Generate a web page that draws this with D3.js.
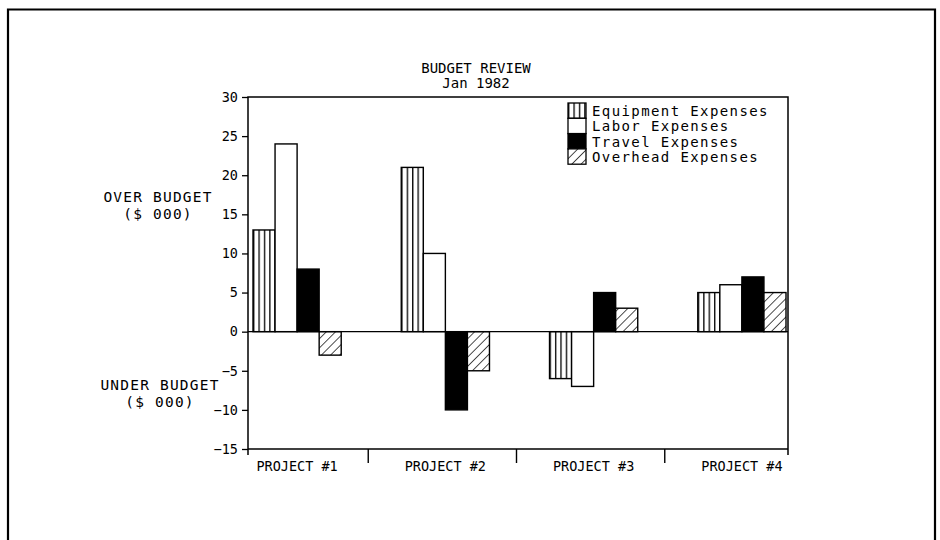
<!DOCTYPE html>
<html>
<head>
<meta charset="utf-8">
<script src="https://cdnjs.cloudflare.com/ajax/libs/d3/7.8.5/d3.min.js"></script>
<style>
  html, body { margin: 0; padding: 0; background: #fff; }
  svg { display: block; }
  text { font-family: "DejaVu Sans Mono", "Liberation Mono", monospace; fill: #000; }
</style>
</head>
<body>
<svg id="chart" width="940" height="540"></svg>
<script>
// ---- data ----
const categories = ["PROJECT #1", "PROJECT #2", "PROJECT #3", "PROJECT #4"];
const seriesNames = ["Equipment Expenses", "Labor Expenses", "Travel Expenses", "Overhead Expenses"];
const equipment = [13, 21, -6, 5];
const labor = [24, 10, -7, 6];
const travel = [8, -10, 5, 7];
const overhead = [-3, -5, 3, 5];
const yTicks = [-15, -10, -5, 0, 5, 10, 15, 20, 25, 30];
const titleLines = ["BUDGET REVIEW", "Jan 1982"];
const overLabel = ["OVER BUDGET", "($ 000)"];
const underLabel = ["UNDER BUDGET", "($ 000)"];

const seriesValues = [equipment, labor, travel, overhead];
const fills = ["url(#vlines)", "#fff", "#000", "url(#diag)"];

// ---- layout ----
const svg = d3.select("#chart");
const plot = { left: 248, right: 788, top: 97, bottom: 449 };

svg.append("rect").attr("width", 940).attr("height", 540).attr("fill", "#fff");

// outer frame (open at bottom)
svg.append("path")
  .attr("d", "M8,545 L8,9.5 L935,9.5 L935,545")
  .attr("fill", "none").attr("stroke", "#000").attr("stroke-width", 2.2);

// patterns
const defs = svg.append("defs");
const pv = defs.append("pattern").attr("id", "vlines")
  .attr("patternUnits", "userSpaceOnUse").attr("width", 5.4).attr("height", 10);
pv.append("rect").attr("width", 5.4).attr("height", 10).attr("fill", "#fff");
pv.append("line").attr("x1", 0.7).attr("x2", 0.7).attr("y1", 0).attr("y2", 10)
  .attr("stroke", "#000").attr("stroke-width", 1.3);

const pd = defs.append("pattern").attr("id", "diag")
  .attr("patternUnits", "userSpaceOnUse").attr("width", 6.5).attr("height", 6.5)
  .attr("patternTransform", "rotate(45)");
pd.append("rect").attr("width", 6.5).attr("height", 6.5).attr("fill", "#fff");
pd.append("line").attr("x1", 0).attr("x2", 0).attr("y1", 0).attr("y2", 6.5)
  .attr("stroke", "#000").attr("stroke-width", 1.4);

// scales
const y = d3.scaleLinear().domain([-15, 30]).range([plot.bottom, plot.top]);
const x0 = d3.scaleBand().domain(categories).range([plot.left + 5, plot.right - 2])
  .paddingInner(0.405).paddingOuter(0);
const x1 = d3.scaleBand().domain(seriesNames).range([0, x0.bandwidth()]).padding(0);

// bars
const groups = svg.append("g").selectAll("g")
  .data(categories).join("g")
  .attr("transform", d => `translate(${x0(d)},0)`);

groups.selectAll("rect")
  .data((c, ci) => seriesNames.map((s, si) => ({ s, si, v: seriesValues[si][ci] })))
  .join("rect")
  .attr("x", d => x1(d.s))
  .attr("width", x1.bandwidth())
  .attr("y", d => y(Math.max(0, d.v)))
  .attr("height", d => Math.abs(y(d.v) - y(0)))
  .attr("fill", d => fills[d.si])
  .attr("stroke", "#000").attr("stroke-width", 1.4);

// zero line
svg.append("line")
  .attr("x1", plot.left).attr("x2", plot.right)
  .attr("y1", y(0)).attr("y2", y(0))
  .attr("stroke", "#000").attr("stroke-width", 1.2);

// plot box
svg.append("path")
  .attr("d", `M${plot.left},${plot.bottom + 6} L${plot.left},${plot.top} L${plot.right},${plot.top} L${plot.right},${plot.bottom + 6}`)
  .attr("fill", "none").attr("stroke", "#000").attr("stroke-width", 1.5);
svg.append("line")
  .attr("x1", plot.left).attr("x2", plot.right)
  .attr("y1", plot.bottom).attr("y2", plot.bottom)
  .attr("stroke", "#000").attr("stroke-width", 1.5);

// y axis
const yAxis = d3.axisLeft(y).tickValues(yTicks).tickSize(6).tickPadding(4)
  .tickFormat(d3.format("d"));
const yg = svg.append("g").attr("transform", `translate(${plot.left},0)`).call(yAxis);
yg.select(".domain").remove();
yg.selectAll(".tick line").attr("stroke", "#000").attr("stroke-width", 1.3);
yg.selectAll(".tick text").attr("font-size", 13.5)
  .attr("font-family", "DejaVu Sans Mono").attr("fill", "#000");

// x axis: separators and labels
const step = x0.step(), bw = x0.bandwidth();
svg.append("g").selectAll("line")
  .data(categories.slice(1))
  .join("line")
  .attr("x1", d => x0(d) - (step - bw) / 2 - 3)
  .attr("x2", d => x0(d) - (step - bw) / 2 - 3)
  .attr("y1", plot.bottom).attr("y2", plot.bottom + 14)
  .attr("stroke", "#000").attr("stroke-width", 1.4);

svg.append("g").selectAll("text")
  .data(categories).join("text")
  .attr("x", d => x0(d) + bw / 2)
  .attr("y", 471)
  .attr("text-anchor", "middle")
  .attr("font-size", 13.5)
  .text(d => d);

// title
svg.append("g").selectAll("text")
  .data(titleLines).join("text")
  .attr("x", 476)
  .attr("y", (d, i) => 73 + i * 14.5)
  .attr("text-anchor", "middle")
  .attr("font-size", 14)
  .text(d => d);

// side labels
svg.append("g").selectAll("text")
  .data(overLabel).join("text")
  .attr("x", 158).attr("y", (d, i) => 202 + i * 16.5)
  .attr("text-anchor", "middle").attr("font-size", 14.5)
  .attr("letter-spacing", 1.2)
  .text(d => d);
svg.append("g").selectAll("text")
  .data(underLabel).join("text")
  .attr("x", 160).attr("y", (d, i) => 390 + i * 17)
  .attr("text-anchor", "middle").attr("font-size", 14.5)
  .attr("letter-spacing", 1.2)
  .text(d => d);

// legend
const legend = svg.append("g").attr("transform", "translate(568,103)");
const rowH = 15.3;
legend.selectAll("rect")
  .data(seriesNames).join("rect")
  .attr("x", 0).attr("y", (d, i) => i * rowH)
  .attr("width", 18).attr("height", rowH)
  .attr("fill", (d, i) => fills[i])
  .attr("stroke", "#000").attr("stroke-width", 1.3);
legend.selectAll("text")
  .data(seriesNames).join("text")
  .attr("x", 24).attr("y", (d, i) => i * rowH + 13)
  .attr("font-size", 14)
  .attr("letter-spacing", 1.4)
  .text(d => d);
</script>
</body>
</html>
